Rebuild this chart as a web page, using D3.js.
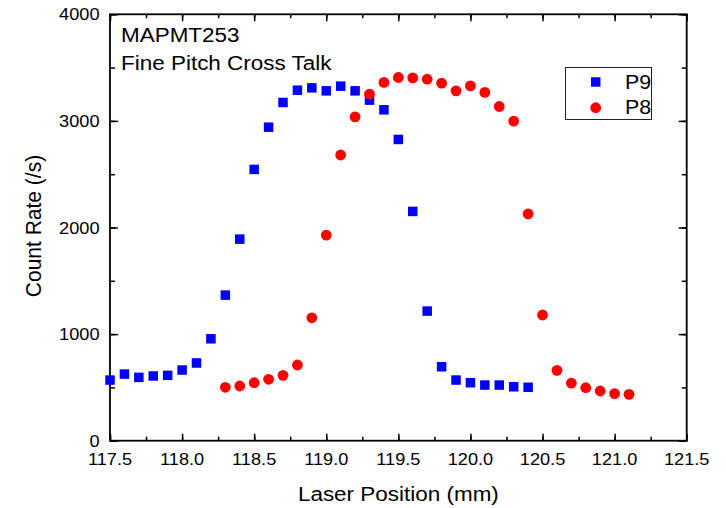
<!DOCTYPE html>
<html><head><meta charset="utf-8">
<script src="https://cdn.jsdelivr.net/npm/d3@7"></script>
<style>body{margin:0;background:#fff}svg{display:block}text{font-family:"Liberation Sans",Arial,sans-serif;fill:#000}</style>
</head><body>
<script>
const xP9 = [117.5,117.6,117.7,117.8,117.9,118.0,118.1,118.2,118.3,118.4,118.5,118.6,118.7,118.8,118.9,119.0,119.1,119.2,119.3,119.4,119.5,119.6,119.7,119.8,119.9,120.0,120.1,120.2,120.3,120.4];
const yP9 = [569,625,594,607,613,663,729,956,1366,1891,2545,2941,3173,3288,3310,3282,3326,3282,3195,3104,2826,2151,1216,694,569,544,522,522,506,501];
const xP8 = [118.3,118.4,118.5,118.6,118.7,118.8,118.9,119.0,119.1,119.2,119.3,119.4,119.5,119.6,119.7,119.8,119.9,120.0,120.1,120.2,120.3,120.4,120.5,120.6,120.7,120.8,120.9,121.0,121.1];
const yP8 = [501,513,544,576,613,710,1153,1929,2680,3038,3251,3361,3407,3404,3391,3354,3282,3329,3267,3135,2998,2128,1179,660,540,497,466,441,435];
const xTicks = [117.5,118.0,118.5,119.0,119.5,120.0,120.5,121.0,121.5];
const yTicks = [0,1000,2000,3000,4000];
const seriesNames = ["P9","P8"];
const titleLines = ["MAPMT253","Fine Pitch Cross Talk"];

const W=726,H=508, L=110, R=686.7, T=14.3, B=440.7, SX=1.07;
const svg=d3.select("body").append("svg").attr("width",W).attr("height",H);
const x=d3.scaleLinear().domain([117.5,121.5]).range([L,R]);
const y=d3.scaleLinear().domain([0,4000]).range([B,T]);

function txt(px,py,s,size,anchor,rot){
  const t=svg.append("text").attr("transform",`translate(${px},${py})`+(rot?` rotate(${rot}) scale(1,${SX})`:` scale(${SX},1)`))
    .attr("font-size",size).attr("text-anchor",anchor||"start").text(s);
  return t;
}

const minorX=d3.range(117.5,121.51,0.25), minorY=d3.range(0,4001,500);
// axes with inward ticks on all four sides
const axStroke="#000";
const gB=svg.append("g").attr("transform",`translate(0,${B})`).call(d3.axisBottom(x).tickValues(minorX).tickSize(-4).tickFormat(""));
const gB2=svg.append("g").attr("transform",`translate(0,${B})`).call(d3.axisBottom(x).tickValues(xTicks).tickSize(-7).tickFormat(""));
const gT=svg.append("g").attr("transform",`translate(0,${T})`).call(d3.axisTop(x).tickValues(minorX).tickSize(-4).tickFormat(""));
const gT2=svg.append("g").attr("transform",`translate(0,${T})`).call(d3.axisTop(x).tickValues(xTicks).tickSize(-7).tickFormat(""));
const gL=svg.append("g").attr("transform",`translate(${L},0)`).call(d3.axisLeft(y).tickValues(minorY).tickSize(-5).tickFormat(""));
const gL2=svg.append("g").attr("transform",`translate(${L},0)`).call(d3.axisLeft(y).tickValues(yTicks).tickSize(-8).tickFormat(""));
const gR=svg.append("g").attr("transform",`translate(${R},0)`).call(d3.axisRight(y).tickValues(minorY).tickSize(-5).tickFormat(""));
const gR2=svg.append("g").attr("transform",`translate(${R},0)`).call(d3.axisRight(y).tickValues(yTicks).tickSize(-8).tickFormat(""));
svg.selectAll(".domain").remove();
svg.selectAll(".tick line").attr("stroke",axStroke).attr("stroke-width",1.5);
svg.append("rect").attr("x",L).attr("y",T).attr("width",R-L).attr("height",B-T)
  .attr("fill","none").attr("stroke",axStroke).attr("stroke-width",1.8);

// tick labels
xTicks.forEach(v=>txt(x(v),465,d3.format(".1f")(v),17,"middle"));
yTicks.forEach(v=>txt(99.5,y(v)+6,String(v),17,"end"));

// axis titles
txt((L+R)/2,500.5,"Laser Position (mm)",21,"middle");
txt(41,226,"Count Rate (/s)",21,"middle",-90);

// annotation
txt(121,42.3,titleLines[0],21,"start");
txt(121,70,titleLines[1],21,"start");

// data
const sq=9.5;
svg.append("g").selectAll("rect").data(xP9.map((v,i)=>[v,yP9[i]])).join("rect")
  .attr("x",d=>x(d[0])-sq/2).attr("y",d=>y(d[1])-sq/2).attr("width",sq).attr("height",sq).attr("fill","#0000ff");
svg.append("g").selectAll("circle").data(xP8.map((v,i)=>[v,yP8[i]])).join("circle")
  .attr("cx",d=>x(d[0])).attr("cy",d=>y(d[1])).attr("r",5.4).attr("fill","#ff0000");

// legend
svg.append("rect").attr("x",565.5).attr("y",67.5).attr("width",86).attr("height",52).attr("fill","#fff").attr("stroke","#222").attr("stroke-width",1);
svg.append("rect").attr("x",595.7-sq/2).attr("y",82-sq/2).attr("width",sq).attr("height",sq).attr("fill","#0000ff");
svg.append("circle").attr("cx",595.7).attr("cy",107.7).attr("r",5.4).attr("fill","#ff0000");
txt(625,88.5,seriesNames[0],20,"start");
txt(625,114,seriesNames[1],20,"start");
</script>
</body></html>
